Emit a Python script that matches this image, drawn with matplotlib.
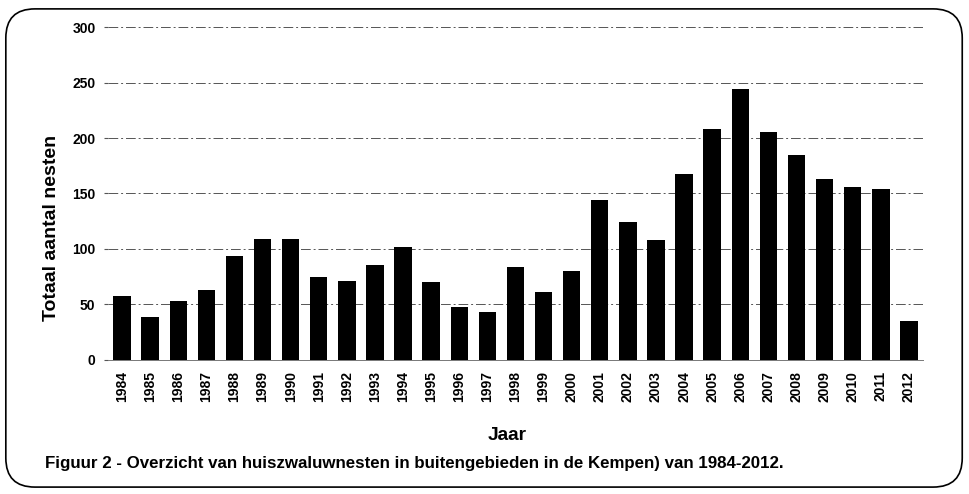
import matplotlib
matplotlib.use("Agg")
import matplotlib.pyplot as plt
from matplotlib.patches import FancyBboxPatch

years = [str(y) for y in range(1984, 2013)]
nests = [58, 39, 53, 63, 94, 109, 109, 75, 71, 86, 102, 70, 48, 43, 84, 61, 80,
         144, 124, 108, 168, 208, 244, 205, 185, 163, 156, 154, 35]
yticks = [0, 50, 100, 150, 200, 250, 300]

plt.rcParams['font.family'] = ['Liberation Sans', 'DejaVu Sans']
plt.rcParams['font.weight'] = 'bold'

fig = plt.figure(figsize=(9.70, 4.94), dpi=100)
ax = fig.add_axes([0.1113, 0.2713, 0.8402, 0.674])

x = list(range(len(years)))
ax.bar(x, nests, width=0.62, color='black', zorder=3)
ax.set_xlim(-0.5, len(years) - 0.5)
ax.set_ylim(0, 300)
ax.set_yticks(yticks)
ax.set_yticklabels([str(v) for v in yticks], fontsize=10, fontweight='bold')
ax.set_xticks(x)
ax.set_xticklabels(years, rotation=90, fontsize=10, fontweight='bold')
ax.tick_params(axis='x', length=0, pad=8)
ax.tick_params(axis='y', length=3, pad=6, color='#555555')
for s in ['top', 'right', 'left']:
    ax.spines[s].set_visible(False)
ax.spines['bottom'].set_color('#777777')
ax.spines['bottom'].set_linewidth(0.7)
ax.yaxis.grid(True, color='#555555', linewidth=0.7, linestyle=(0, (10, 3, 2, 3)), zorder=0)
ax.set_axisbelow(True)

fig.text(0.0536, 1 - 228 / 494, 'Totaal aantal nesten', fontsize=14, fontweight='bold',
         rotation=90, ha='center', va='center')
fig.text(0.523, 1 - 435 / 494, 'Jaar', fontsize=13.8, fontweight='bold', ha='center', va='center')
fig.text(0.046, 1 - 463 / 494, 'Figuur 2 - Overzicht van huiszwaluwnesten in buitengebieden in de Kempen) van 1984-2012.',
         fontsize=12.2, fontweight='bold', ha='left', va='center')

frame = FancyBboxPatch((0.006, 0.014), 0.986, 0.968, boxstyle='round,pad=0,rounding_size=0.03',
                       transform=fig.transFigure, fill=False, edgecolor='black', linewidth=1.2,
                       mutation_aspect=970/494)
fig.patches.append(frame)

fig.savefig('out.png', dpi=100)
